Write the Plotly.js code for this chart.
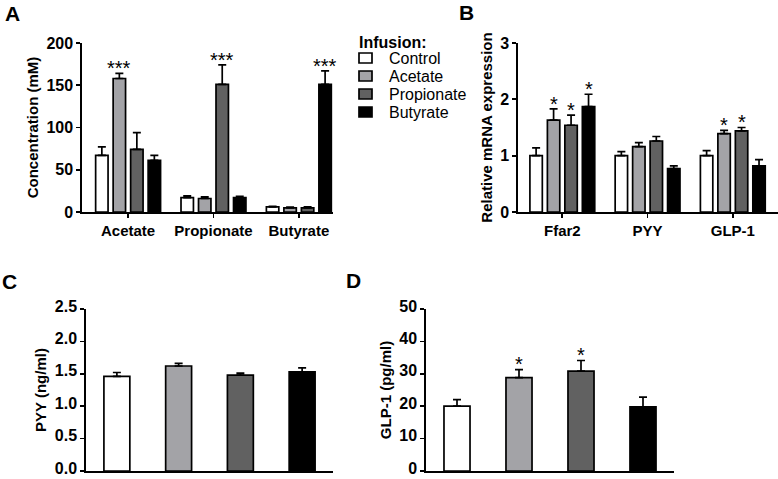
<!DOCTYPE html>
<html>
<head>
<meta charset="utf-8">
<script src="https://cdn.plot.ly/plotly-3.0.1.min.js"></script>
<style>html,body{margin:0;padding:0;background:#fff;}#chart{width:778px;height:479px;}</style>
</head>
<body>
<div id="chart"></div>
<script>
// ---------- data ----------
const infusions = ['Control', 'Acetate', 'Propionate', 'Butyrate'];
const groupsA = ['Acetate', 'Propionate', 'Butyrate'];
const groupsB = ['Ffar2', 'PYY', 'GLP-1'];

// Panel A: concentration (mM), one array per infusion across groupsA
const concControl    = [67, 17, 6];
const concAcetate    = [158, 16, 5];
const concPropionate = [74, 151, 5];
const concButyrate   = [61, 17, 151];
const concErrControl    = [10, 2, 0.8];
const concErrAcetate    = [6, 2, 0.7];
const concErrPropionate = [20, 23, 1];
const concErrButyrate   = [6, 1.5, 16];
const concSigControl    = ['', '', ''];
const concSigAcetate    = ['***', '', ''];
const concSigPropionate = ['', '***', ''];
const concSigButyrate   = ['', '', '***'];

// Panel B: relative mRNA expression
const mrnaControl    = [1.0, 1.0, 1.0];
const mrnaAcetate    = [1.63, 1.16, 1.39];
const mrnaPropionate = [1.54, 1.26, 1.44];
const mrnaButyrate   = [1.87, 0.77, 0.82];
const mrnaErrControl    = [0.14, 0.07, 0.09];
const mrnaErrAcetate    = [0.20, 0.07, 0.06];
const mrnaErrPropionate = [0.18, 0.08, 0.06];
const mrnaErrButyrate   = [0.22, 0.05, 0.11];
const mrnaSigControl    = ['', '', ''];
const mrnaSigAcetate    = ['*', '', '*'];
const mrnaSigPropionate = ['*', '', '*'];
const mrnaSigButyrate   = ['*', '', ''];

// Panel C: PYY (ng/ml), per infusion
const pyyValues = [1.46, 1.62, 1.48, 1.53];
const pyyErrors = [0.06, 0.04, 0.03, 0.06];
const pyySig    = ['', '', '', ''];

// Panel D: GLP-1 (pg/ml), per infusion
const glpValues = [20.0, 28.8, 30.8, 19.8];
const glpErrors = [2.0, 2.5, 3.3, 3.0];
const glpSig    = ['', '*', '*', ''];

// ---------- style ----------
const colors = ['#ffffff', '#a3a3a7', '#616161', '#000000'];
const FONT = 'Arial, "Liberation Sans", sans-serif';
const W = 778, H = 479;
const px = v => v / W;
const py = v => 1 - v / H;
const BARGAP = 0.18;

const concVals = [concControl, concAcetate, concPropionate, concButyrate];
const concErrs = [concErrControl, concErrAcetate, concErrPropionate, concErrButyrate];
const concSigs = [concSigControl, concSigAcetate, concSigPropionate, concSigButyrate];
const mrnaVals = [mrnaControl, mrnaAcetate, mrnaPropionate, mrnaButyrate];
const mrnaErrs = [mrnaErrControl, mrnaErrAcetate, mrnaErrPropionate, mrnaErrButyrate];
const mrnaSigs = [mrnaSigControl, mrnaSigAcetate, mrnaSigPropionate, mrnaSigButyrate];

function errBar(arr) {
  return {type: 'data', array: arr, arrayminus: arr.map(() => 0), symmetric: false,
          color: '#000', thickness: 1.7, width: 4};
}

const traces = [];
const annotations = [];
const starFont = {family: FONT, size: 20, color: '#000'};

function addGrouped(cats, vals, errs, sigs, xa, ya) {
  const slot = (1 - BARGAP) / infusions.length;
  infusions.forEach((name, i) => {
    traces.push({
      type: 'bar', name: name, x: cats, y: vals[i], xaxis: xa, yaxis: ya,
      marker: {color: colors[i], line: {color: '#000', width: 1.7}},
      error_y: errBar(errs[i]), showlegend: false, hoverinfo: 'skip'
    });
    sigs[i].forEach((s, k) => {
      if (!s) return;
      annotations.push({
        text: s, x: k + (i - 1.5) * slot, y: vals[i][k] + errs[i][k],
        xref: xa, yref: ya, showarrow: false, yanchor: 'bottom', yshift: -8,
        font: starFont
      });
    });
  });
}

addGrouped(groupsA, concVals, concErrs, concSigs, 'x', 'y');
addGrouped(groupsB, mrnaVals, mrnaErrs, mrnaSigs, 'x2', 'y2');

function addSingle(vals, errs, sigs, xa, ya) {
  traces.push({
    type: 'bar', x: infusions, y: vals, xaxis: xa, yaxis: ya, width: 0.42,
    marker: {color: colors, line: {color: '#000', width: 1.7}},
    error_y: errBar(errs), showlegend: false, hoverinfo: 'skip'
  });
  sigs.forEach((s, k) => {
    if (!s) return;
    annotations.push({
      text: s, x: k, y: vals[k] + errs[k], xref: xa, yref: ya, showarrow: false,
      yanchor: 'bottom', yshift: -7, font: starFont
    });
  });
}
addSingle(pyyValues, pyyErrors, pyySig, 'x3', 'y3');
addSingle(glpValues, glpErrors, glpSig, 'x4', 'y4');

// Panel letters
[['A', 12, 13], ['B', 466, 12], ['C', 9, 281], ['D', 353, 280]].forEach(([t, x, y]) => {
  annotations.push({text: t, x: px(x), y: py(y), xref: 'paper', yref: 'paper', showarrow: false,
    xanchor: 'center', yanchor: 'middle', font: {family: FONT, size: 21, weight: 700, color: '#000'}});
});

// Legend (manual)
const shapes = [];
annotations.push({text: 'Infusion:', x: px(357), y: py(43), xref: 'paper', yref: 'paper', showarrow: false,
  xanchor: 'left', yanchor: 'middle', font: {family: FONT, size: 16, weight: 700, color: '#000'}});
const legRows = [58, 76, 94, 112];
infusions.forEach((name, i) => {
  shapes.push({type: 'rect', xref: 'paper', yref: 'paper', x0: px(359), x1: px(372),
    y0: py(legRows[i] - 5), y1: py(legRows[i] + 5), fillcolor: colors[i], line: {color: '#000', width: 1.7}});
  annotations.push({text: name, x: px(387), y: py(legRows[i]), xref: 'paper', yref: 'paper', showarrow: false,
    xanchor: 'left', yanchor: 'middle', font: {family: FONT, size: 16, color: '#000'}});
});

const tickFontY = {family: FONT, size: 16, weight: 700, color: '#000'};
const tickFontX = {family: FONT, size: 15, weight: 700, color: '#000'};
const titleFont = {family: FONT, size: 15, weight: 700, color: '#000'};
const baseX = {showgrid: false, zeroline: false, showline: true, linecolor: '#000', linewidth: 1.7,
  ticks: 'outside', ticklen: 4, tickwidth: 1.7, tickcolor: '#000', tickfont: tickFontX, fixedrange: true,
  ticklabeloverflow: 'allow'};
const baseY = {showgrid: false, zeroline: false, showline: true, linecolor: '#000', linewidth: 1.7,
  ticks: 'outside', ticklen: 4, tickwidth: 1.7, tickcolor: '#000', tickfont: tickFontY, fixedrange: true,
  ticklabeloverflow: 'allow'};

const yTopDom = [267 / H, 1 - 43 / H];
const yBotDom = [8 / H, 1 - 309 / H];

const layout = {
  width: W, height: H, margin: {l: 0, r: 0, t: 0, b: 0},
  paper_bgcolor: '#fff', plot_bgcolor: 'rgba(0,0,0,0)',
  barmode: 'group', bargap: BARGAP, bargroupgap: 0.29, showlegend: false,
  font: {family: FONT, color: '#000'},
  xaxis: Object.assign({}, baseX, {domain: [px(82), px(333)], range: [-0.54, 2.40], anchor: 'y'}),
  yaxis: Object.assign({}, baseY, {domain: yTopDom, range: [0, 200], dtick: 50, anchor: 'x',
    title: {text: 'Concentration (mM)', font: titleFont, standoff: 4}}),
  xaxis2: Object.assign({}, baseX, {domain: [px(518), 1], range: [-0.52, 2.53], anchor: 'y2'}),
  yaxis2: Object.assign({}, baseY, {domain: yTopDom, range: [0, 3], dtick: 1, anchor: 'x2',
    title: {text: 'Relative mRNA expression', font: titleFont, standoff: 4}}),
  xaxis3: Object.assign({}, baseX, {domain: [px(86), px(333)], range: [-0.5, 3.5], anchor: 'y3',
    showticklabels: false, ticks: ''}),
  yaxis3: Object.assign({}, baseY, {domain: yBotDom, range: [0, 2.5], dtick: 0.5, tickformat: '.1f', anchor: 'x3',
    ticklabelshift: -3, title: {text: 'PYY (ng/ml)', font: titleFont, standoff: 4}}),
  xaxis4: Object.assign({}, baseX, {domain: [px(426), px(674)], range: [-0.5, 3.5], anchor: 'y4',
    showticklabels: false, ticks: ''}),
  yaxis4: Object.assign({}, baseY, {domain: yBotDom, range: [0, 50], dtick: 10, anchor: 'x4',
    ticklabelshift: -3, title: {text: 'GLP-1 (pg/ml)', font: titleFont, standoff: 4}}),
  annotations: annotations,
  shapes: shapes
};

Plotly.newPlot('chart', traces, layout, {staticPlot: true, displayModeBar: false});
</script>
</body>
</html>
